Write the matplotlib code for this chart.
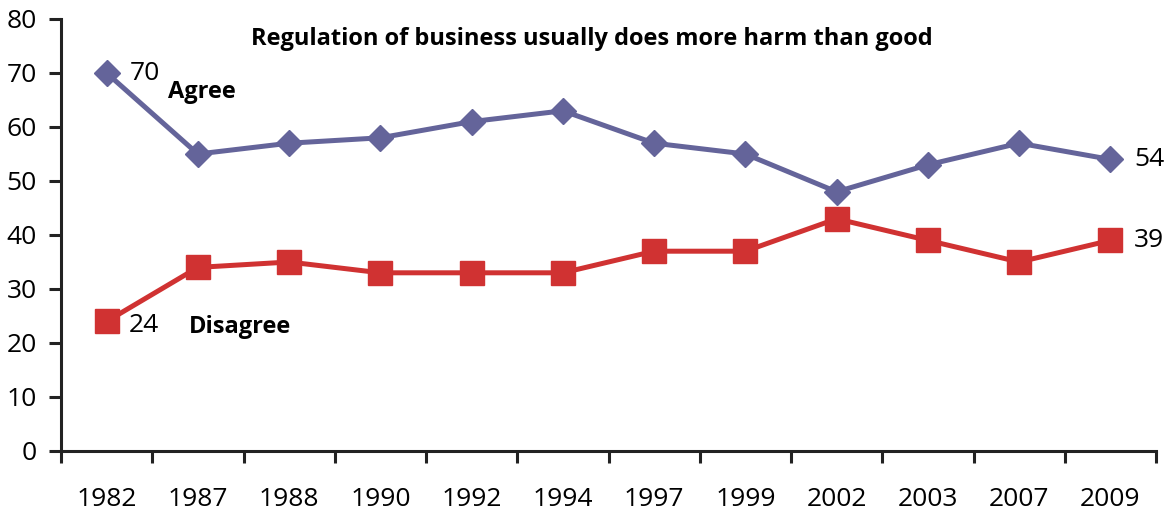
import matplotlib
matplotlib.use("Agg")
import matplotlib.pyplot as plt

years = ["1982", "1987", "1988", "1990", "1992", "1994", "1997", "1999", "2002", "2003", "2007", "2009"]
agree = [70, 55, 57, 58, 61, 63, 57, 55, 48, 53, 57, 54]
disagree = [24, 34, 35, 33, 33, 33, 37, 37, 43, 39, 35, 39]
title = "Regulation of business usually does more harm than good"

plt.rcParams['font.family'] = ['Open Sans', 'DejaVu Sans']

fig = plt.figure(figsize=(11.7, 5.16), dpi=100)
ax = fig.add_axes([61/1170, 1-451/516, 1095/1170, 432/516])

x = list(range(len(years)))
c_agree = "#64649A"
c_dis = "#D03232"
ax.plot(x, agree, color=c_agree, lw=3.6, marker="D", ms=13.5, mec=c_agree, mfc=c_agree, zorder=3)
ax.plot(x, disagree, color=c_dis, lw=3.6, marker="s", ms=17, mec=c_dis, mfc=c_dis, zorder=3)

fs = 19
ax.set_xlim(-0.5, len(years) - 0.5)
ax.set_ylim(0, 80)
ax.set_yticks(range(0, 81, 10))
ax.set_xticks([i + 0.5 for i in range(-1, len(years))])
ax.set_xticklabels([])
ax.set_xticks(x, minor=True)
ax.set_xticklabels(years, minor=True)
ax.tick_params(axis='x', which='minor', length=0, pad=26, labelsize=fs)
ax.tick_params(axis='x', which='major', length=8.5, width=2.2, direction='out', color="#222222")
ax.tick_params(axis='y', length=8.5, width=2.2, direction='out', color="#222222", labelsize=fs, pad=9)

for s in ["top", "right"]:
    ax.spines[s].set_visible(False)
for s in ["left", "bottom"]:
    ax.spines[s].set_linewidth(2.2)
    ax.spines[s].set_color("#222222")

ax.annotate(str(agree[0]), (x[0], agree[0]), xytext=(17, 0), textcoords="offset points",
            ha="left", va="center", fontsize=fs)
ax.annotate(str(agree[-1]), (x[-1], agree[-1]), xytext=(17, 0), textcoords="offset points",
            ha="left", va="center", fontsize=fs)
ax.annotate(str(disagree[0]), (x[0], disagree[0]), xytext=(16, -3), textcoords="offset points",
            ha="left", va="center", fontsize=fs)
ax.annotate(str(disagree[-1]), (x[-1], disagree[-1]), xytext=(17, 0), textcoords="offset points",
            ha="left", va="center", fontsize=fs)

bfs = 17
ax.text(0.67, 66.5, "Agree", ha="left", va="center", fontsize=bfs, fontweight="bold")
ax.text(0.9, 23, "Disagree", ha="left", va="center", fontsize=bfs, fontweight="bold")
ax.text(5.32, 76.3, title, ha="center", va="center", fontsize=bfs, fontweight="bold")

fig.savefig("out.png", dpi=100)
